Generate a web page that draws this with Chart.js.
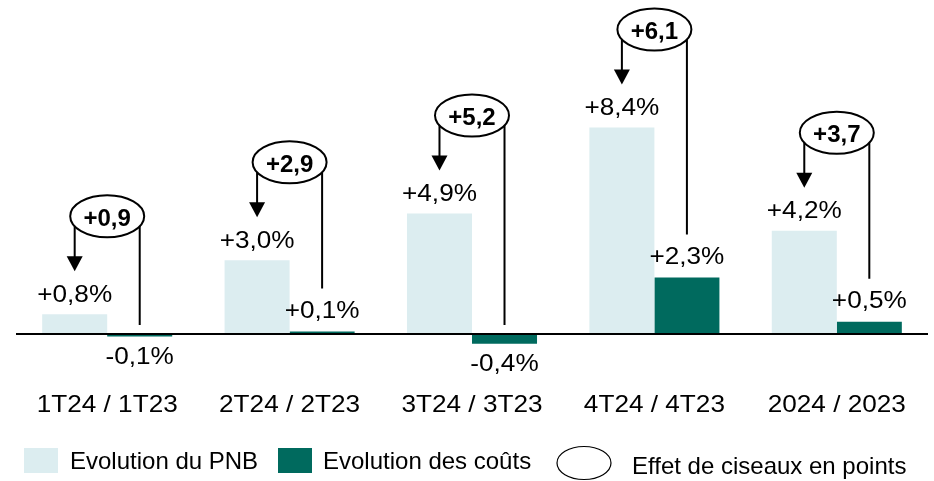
<!DOCTYPE html>
<html>
<head>
<meta charset="utf-8">
<script src="https://cdn.jsdelivr.net/npm/chart.js@4"></script>
<style>
  html, body { margin: 0; padding: 0; background: #fff; }
  #wrap { width: 934px; height: 481px; }
</style>
</head>
<body>
<div id="wrap"><canvas id="chart"></canvas></div>
<script>
const labels = ['1T24 / 1T23', '2T24 / 2T23', '3T24 / 3T23', '4T24 / 4T23', '2024 / 2023'];
const pnb = [0.8, 3.0, 4.9, 8.4, 4.2];
const couts = [-0.1, 0.1, -0.4, 2.3, 0.5];
const ciseaux = [0.9, 2.9, 5.2, 6.1, 3.7];

const seriesNames = ['Evolution du PNB', 'Evolution des coûts'];
const ciseauxName = 'Effet de ciseaux en points';

const LIGHT = '#dcedf0';
const DARK = '#006a5e';
const FONT = "'Liberation Sans', Arial, sans-serif";
const STRETCH = 1.09;

function fmt(v, unit) {
  const s = (v > 0 ? '+' : '') + v.toFixed(1).replace('.', ',');
  return s + (unit || '');
}

function text(ctx, str, x, y, font, stretch, align) {
  ctx.save();
  ctx.font = font;
  ctx.fillStyle = '#000';
  ctx.textAlign = align || 'center';
  ctx.textBaseline = 'middle';
  ctx.translate(x, y);
  ctx.scale(stretch, 1);
  ctx.fillText(str, 0, 0);
  ctx.restore();
}

const overlay = {
  id: 'overlay',
  afterDatasetsDraw(chart) {
    const ctx = chart.ctx;
    const x = chart.scales.x;
    const y = chart.scales.y;
    const area = chart.chartArea;
    const y0 = y.getPixelForValue(0);
    const m0 = chart.getDatasetMeta(0).data;
    const m1 = chart.getDatasetMeta(1).data;

    // zero line
    ctx.save();
    ctx.strokeStyle = '#000';
    ctx.lineWidth = 2;
    ctx.beginPath();
    ctx.moveTo(area.left, y0);
    ctx.lineTo(area.right, y0);
    ctx.stroke();
    ctx.restore();

    const labelFont = '24px ' + FONT;

    labels.forEach((lab, i) => {
      // category labels
      text(ctx, lab, x.getPixelForValue(i), 405, labelFont, STRETCH);

      const pb = m0[i], cb = m1[i];
      const pTop = pnb[i] >= 0 ? pb.y : y0;
      const pLabelY = pnb[i] >= 0 ? pb.y - 19 : pb.y + 21;
      const cLabelY = couts[i] >= 0 ? cb.y - 20 : cb.y + 21;
      text(ctx, fmt(pnb[i], '%'), pb.x, pLabelY, labelFont, STRETCH);
      text(ctx, fmt(couts[i], '%'), cb.x, cLabelY, labelFont, STRETCH);

      // scissors annotation: arrow down to PNB, line down to costs
      const cx = x.getPixelForValue(i);
      const cy = pTop - 98;
      const tipY = pLabelY - 24;
      const endY = couts[i] >= 0 ? cLabelY - 23 : y0 - 9;

      ctx.save();
      ctx.strokeStyle = '#000';
      ctx.fillStyle = '#000';
      ctx.lineWidth = 2;
      ctx.beginPath();
      ctx.moveTo(pb.x, cy);
      ctx.lineTo(pb.x, tipY - 14);
      ctx.moveTo(cb.x, cy);
      ctx.lineTo(cb.x, endY);
      ctx.stroke();
      ctx.beginPath();
      ctx.moveTo(pb.x - 8, tipY - 15);
      ctx.lineTo(pb.x + 8, tipY - 15);
      ctx.lineTo(pb.x, tipY);
      ctx.closePath();
      ctx.fill();

      ctx.beginPath();
      ctx.ellipse(cx, cy, 37, 21, 0, 0, Math.PI * 2);
      ctx.fillStyle = '#fff';
      ctx.fill();
      ctx.stroke();
      ctx.restore();
      text(ctx, fmt(ciseaux[i]), cx, cy + 3, 'bold 24px ' + FONT, 1.0);
    });

    // legend
    ctx.save();
    ctx.fillStyle = LIGHT;
    ctx.fillRect(24, 448, 34, 25);
    ctx.fillStyle = DARK;
    ctx.fillRect(278, 448, 34, 25);
    ctx.strokeStyle = '#000';
    ctx.lineWidth = 1.2;
    ctx.beginPath();
    ctx.ellipse(584, 463, 27, 16.5, 0, 0, Math.PI * 2);
    ctx.stroke();
    ctx.restore();
    const legFont = '24px ' + FONT;
    text(ctx, seriesNames[0], 70, 462, legFont, 1.0, 'left');
    text(ctx, seriesNames[1], 323, 462, legFont, 1.0, 'left');
    text(ctx, ciseauxName, 632, 467, legFont, 1.0, 'left');
  }
};

new Chart(document.getElementById('chart'), {
  type: 'bar',
  data: {
    labels: labels,
    datasets: [
      { label: seriesNames[0], data: pnb, backgroundColor: LIGHT },
      { label: seriesNames[1], data: couts, backgroundColor: DARK }
    ]
  },
  options: {
    responsive: true,
    maintainAspectRatio: false,
    animation: false,
    layout: { padding: { left: 16, right: 6, top: 0, bottom: 108 } },
    datasets: { bar: { categoryPercentage: 0.713, barPercentage: 1.0 } },
    scales: {
      x: { display: false },
      y: { display: false, min: -1.585, max: 13.58 }
    },
    plugins: {
      legend: { display: false },
      tooltip: { enabled: false }
    }
  },
  plugins: [overlay]
});
</script>
</body>
</html>
